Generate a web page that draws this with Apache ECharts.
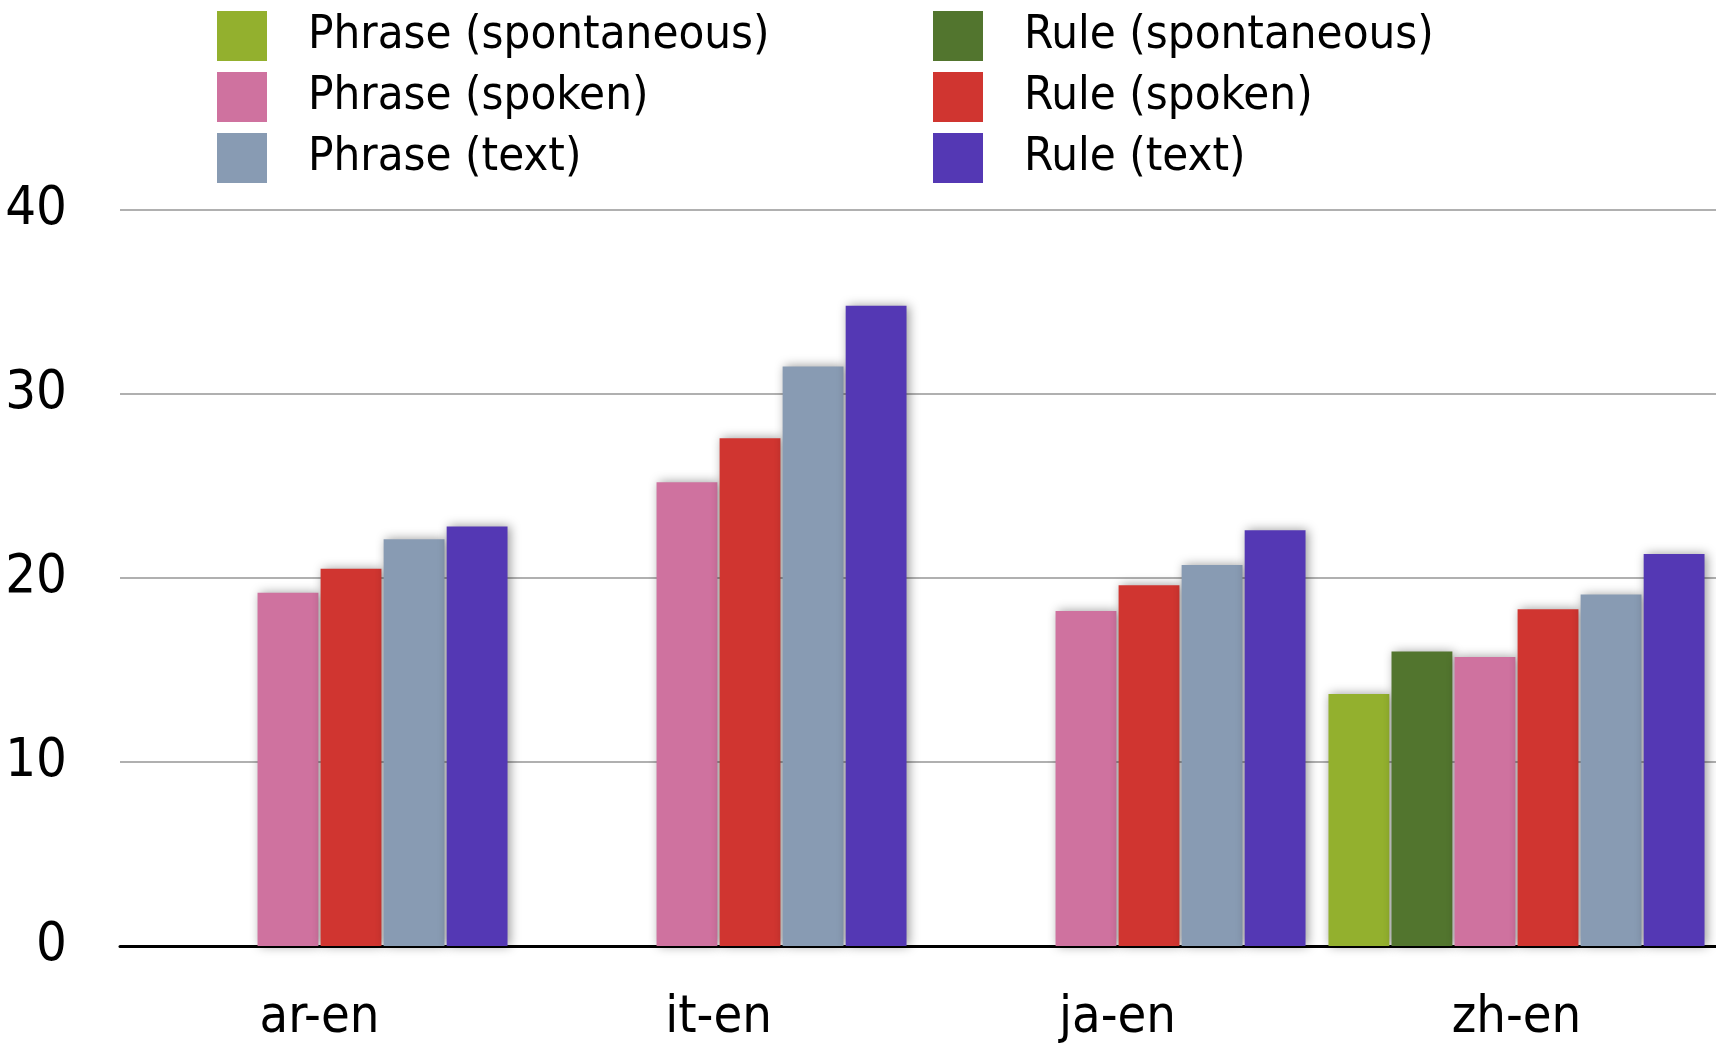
<!DOCTYPE html>
<html>
<head>
<meta charset="utf-8">
<script src="https://cdn.jsdelivr.net/npm/echarts@6/dist/echarts.min.js"></script>
<style>
html,body{margin:0;padding:0;background:#fff;}
#chart{width:1716px;height:1044px;}
</style>
</head>
<body>
<div id="chart"></div>
<script>
const categories = ['ar-en', 'it-en', 'ja-en', 'zh-en'];
const seriesNames = ['Phrase (spontaneous)', 'Rule (spontaneous)', 'Phrase (spoken)', 'Rule (spoken)', 'Phrase (text)', 'Rule (text)'];
const phraseSpontaneous = [null, null, null, 13.7];
const ruleSpontaneous = [null, null, null, 16.0];
const phraseSpoken = [19.2, 25.2, 18.2, 15.7];
const ruleSpoken = [20.5, 27.6, 19.6, 18.3];
const phraseText = [22.1, 31.5, 20.7, 19.1];
const ruleText = [22.8, 34.8, 22.6, 21.3];
const yTicks = [0, 10, 20, 30, 40];

const colors = ['#93b02e', '#52752e', '#cf729f', '#d03530', '#889bb3', '#5438b4'];
const values = [phraseSpontaneous, ruleSpontaneous, phraseSpoken, ruleSpoken, phraseText, ruleText];
const FONT = "'Liberation Sans Narrow', 'DejaVu Sans Condensed', 'Liberation Sans', sans-serif";

const chart = echarts.init(document.getElementById('chart'), null, {renderer: 'canvas'});
const legendCommon = {
  orient: 'vertical', top: 11, itemWidth: 50, itemHeight: 50, itemGap: 11,
  padding: 0,
  icon: 'rect',
  textStyle: {fontFamily: FONT, fontSize: 47, lineHeight: 50, color: '#000', padding: [0, 0, 0, 36]}
};
chart.setOption({
  animation: false,
  backgroundColor: '#fff',
  legend: [
    Object.assign({left: 217, data: [seriesNames[0], seriesNames[2], seriesNames[4]]}, legendCommon),
    Object.assign({left: 933, data: [seriesNames[1], seriesNames[3], seriesNames[5]]}, legendCommon)
  ],
  grid: {left: 120, top: 210, width: 1600, height: 738, containLabel: false},
  xAxis: {
    type: 'category', data: categories,
    axisLine: {show: true, lineStyle: {color: '#000', width: 3}},
    axisTick: {show: false},
    axisLabel: {fontFamily: FONT, fontSize: 52, color: '#000', margin: 46}
  },
  yAxis: {
    type: 'value', min: yTicks[0], max: yTicks[yTicks.length - 1], interval: 10,
    axisLine: {show: false}, axisTick: {show: false},
    axisLabel: {fontFamily: FONT, fontSize: 54, color: '#000', margin: 53},
    splitLine: {show: true, lineStyle: {color: '#b0b0b0', width: 2}}
  },
  series: seriesNames.map((name, i) => ({
    name: name, type: 'bar', data: values[i],
    barGap: '3.6%', barCategoryGap: '5.75%',
    itemStyle: {color: colors[i], shadowColor: 'rgba(0,0,0,0.4)', shadowBlur: 10, shadowOffsetX: 2, shadowOffsetY: 0}
  }))
});
</script>
</body>
</html>
